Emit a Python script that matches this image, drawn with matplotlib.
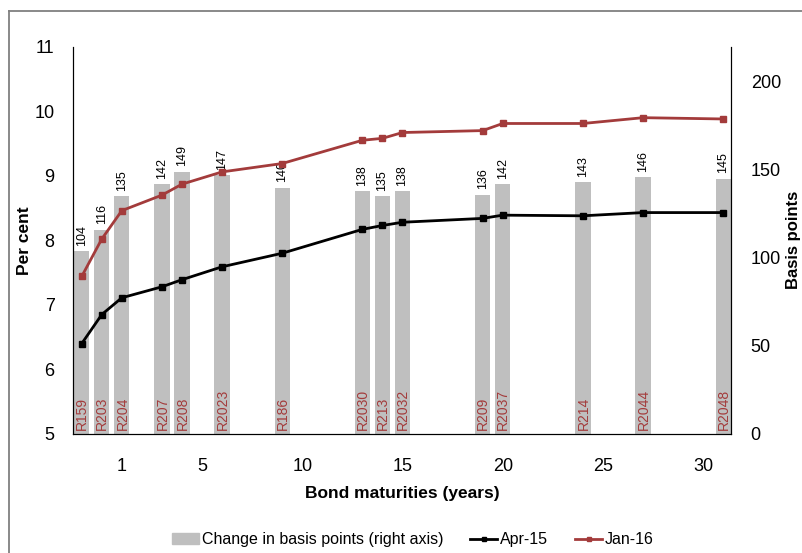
# South African bond yields: Apr-15 vs Jan-16, with change in basis points
import matplotlib
matplotlib.use("Agg")
import matplotlib.pyplot as plt
from matplotlib.lines import Line2D
from matplotlib.patches import Patch

plt.rcParams["font.family"] = ["Liberation Sans", "DejaVu Sans"]

# ── Data ─────────────────────────────────────────────
bonds = ["R159", "R203", "R204", "R207", "R208", "R2023", "R186", "R2030",
         "R213", "R2032", "R209", "R2037", "R214", "R2044", "R2048"]
maturity = [-1, 0, 1, 3, 4, 6, 9, 13, 14, 15, 19, 20, 24, 27, 31]
change_bp = [104, 116, 135, 142, 149, 147, 140, 138, 135, 138, 136, 142, 143, 146, 145]
apr15 = [6.40, 6.85, 7.11, 7.28, 7.39, 7.59, 7.80, 8.17, 8.23, 8.28, 8.34, 8.39, 8.38, 8.43, 8.43]
jan16 = [7.44, 8.02, 8.46, 8.70, 8.87, 9.06, 9.19, 9.55, 9.58, 9.67, 9.70, 9.81, 9.81, 9.90, 9.88]
xticks = [1, 5, 10, 15, 20, 25, 30]

BAR = "#bfbfbf"
RED = "#a33b3b"

fig = plt.figure(figsize=(8.03, 5.53), dpi=100)
ax = fig.add_axes([0.0905, 0.2152, 0.8202, 0.7004])
ax2 = ax.twinx()

# bars on the right axis, drawn behind the lines
ax2.bar(maturity, change_bp, width=0.76, color=BAR, zorder=1)
for x, v, name in zip(maturity, change_bp, bonds):
    ax2.text(x, v + 3, str(v), rotation=90, ha="center", va="bottom", fontsize=9)
    ax2.text(x + 0.03, 2, name, rotation=90, ha="center", va="bottom",
             fontsize=10, color=RED)
ax2.set_ylim(0, 220)
ax2.set_yticks([0, 50, 100, 150, 200])
ax2.set_ylabel("Basis points", fontsize=12, fontweight="bold")
ax2.yaxis.set_label_coords(1.0836, 0.5)

ax.set_zorder(ax2.get_zorder() + 1)
ax.patch.set_visible(False)
ax.plot(maturity, apr15, color="black", lw=2, marker="s", markersize=4.5, zorder=3)
ax.plot(maturity, jan16, color=RED, lw=2, marker="s", markersize=4.5, zorder=3)
ax.set_ylim(5, 11)
ax.set_xlim(-1.45, 31.4)
ax.set_xticks(xticks)
ax.set_ylabel("Per cent", fontsize=12.5, fontweight="bold")
ax.yaxis.set_label_coords(-0.061, 0.5)
ax.set_xlabel("Bond maturities (years)", fontsize=12.5, fontweight="bold", labelpad=8)

for a in (ax, ax2):
    a.spines["top"].set_visible(False)
    a.tick_params(length=0, labelsize=13)
ax.tick_params(axis="y", pad=13)
ax2.tick_params(axis="y", pad=14)
ax.tick_params(axis="x", pad=17)

handles = [
    Patch(color=BAR, label="Change in basis points (right axis)"),
    Line2D([], [], color="black", lw=2, marker="s", markersize=3, label="Apr-15"),
    Line2D([], [], color=RED, lw=2, marker="s", markersize=3, label="Jan-16"),
]
fig.legend(handles=handles, loc="center", bbox_to_anchor=(0.514, 0.024), ncol=3,
           frameon=False, fontsize=11.5, handlelength=1.7, handletextpad=0.15,
           columnspacing=1.7)

# outer frame of the figure box
fy = 1 - 11 / 553
fx = 9 / 803
fig.add_artist(Line2D([fx, fx], [0, fy], color="#808080", lw=1.3))
fig.add_artist(Line2D([fx, 1], [fy, fy], color="#808080", lw=1.3))

fig.savefig("out.png", dpi=100)
